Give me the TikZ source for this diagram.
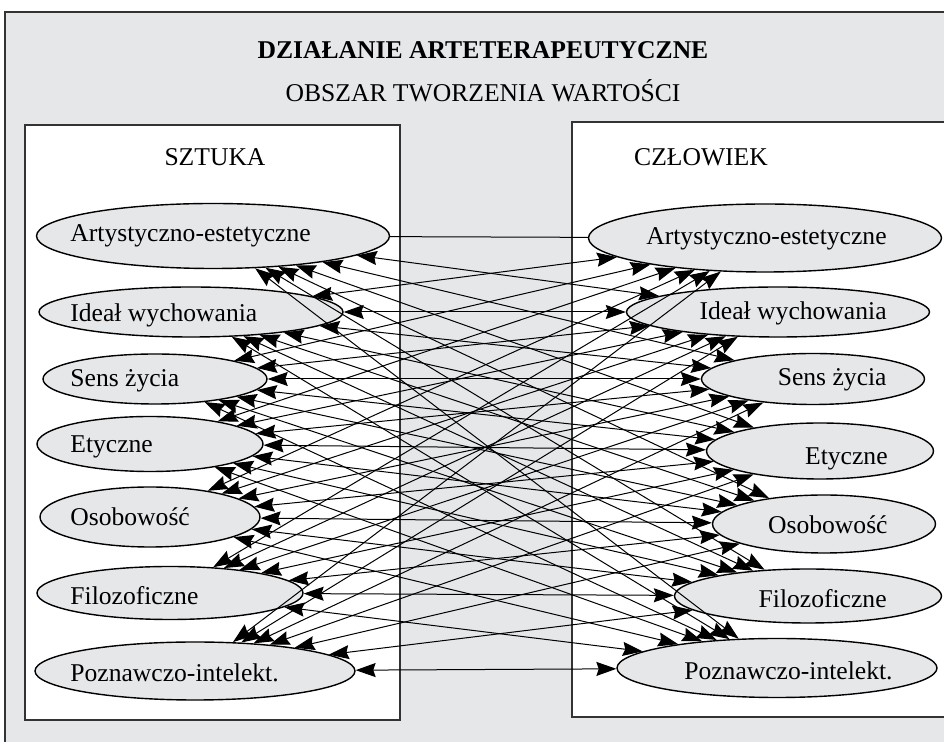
\documentclass[tikz,border=0pt]{standalone}
\usepackage{fontspec}
\setmainfont{Liberation Serif}
\usetikzlibrary{arrows.meta,shapes.geometric}
\definecolor{panel}{RGB}{230,231,233}
\begin{document}
\begin{tikzpicture}[x=0.5pt,y=-0.5pt,
  every node/.style={font=\fontsize{12.8}{14}\selectfont, inner sep=0pt},
  oval/.style={ellipse, draw=black, line width=0.7pt, fill=panel, inner sep=0pt},
  box/.style={draw=black!80, line width=0.7pt, fill=white},
  conn/.style={{Stealth[length=10pt,width=7pt,inset=1.2pt]}-{Stealth[length=10pt,width=7pt,inset=1.2pt]}, line width=0.5pt},
  plain/.style={line width=0.5pt},
]
\useasboundingbox (0,0) rectangle (944,742);
\clip (0,0) rectangle (944,742);
\fill[white] (0,0) rectangle (944,742);
\draw[fill=panel, line width=1pt, draw=black!80] (5,12) rectangle (970,770);
\draw[box] (25,125) rectangle (400,720);
\draw[box] (572,122) rectangle (970,717);
\node[font=\fontsize{12.8}{14}\selectfont\bfseries] (title) at (483,50) {DZIAŁANIE ARTETERAPEUTYCZNE};
\node (sub) at (483,91) {OBSZAR TWORZENIA WARTOŚCI};
\node (sztuka) at (215,157) {SZTUKA};
\node (czlowiek) at (701,157) {CZŁOWIEK};
% left ellipses
\node[oval, minimum width=176.5pt, minimum height=32.5pt] (L1) at (213,236) {};
\node[oval, minimum width=152pt, minimum height=25pt] (L2) at (191,312) {};
\node[oval, minimum width=112pt, minimum height=25pt] (L3) at (155,379) {};
\node[oval, minimum width=113pt, minimum height=27.5pt] (L4) at (150,444) {};
\node[oval, minimum width=110pt, minimum height=30pt] (L5) at (150,517) {};
\node[oval, minimum width=133pt, minimum height=26.5pt] (L6) at (170,593) {};
\node[oval, minimum width=160pt, minimum height=29pt] (L7) at (195,671) {};
% right ellipses
\node[oval, minimum width=176.5pt, minimum height=34pt] (R1) at (765,238) {};
\node[oval, minimum width=151.5pt, minimum height=25pt] (R2) at (778,312) {};
\node[oval, minimum width=111.5pt, minimum height=25.5pt] (R3) at (813,379) {};
\node[oval, minimum width=113.5pt, minimum height=28pt] (R4) at (820,451) {};
\node[oval, minimum width=111.5pt, minimum height=29pt] (R5) at (824,524) {};
\node[oval, minimum width=133.5pt, minimum height=27pt] (R6) at (808,596) {};
\node[oval, minimum width=160pt, minimum height=29.5pt] (R7) at (777,668) {};
% left texts
\node[anchor=west] (tL1) at (70,236) {Artystyczno-estetyczne};
\node[anchor=west] (tL2) at (70,315) {Ideał wychowania};
\node[anchor=west] (tL3) at (70,381) {Sens życia};
\node[anchor=west] (tL4) at (70,447) {Etyczne};
\node[anchor=west] (tL5) at (70,517) {Osobowość};
\node[anchor=west] (tL6) at (70,596) {Filozoficzne};
\node[anchor=west] (tL7) at (70,673) {Poznawczo-intelekt.};
% right texts
\node[anchor=east] (tR1) at (887,239) {Artystyczno-estetyczne};
\node[anchor=east] (tR2) at (887,313) {Ideał wychowania};
\node[anchor=east] (tR3) at (887,380) {Sens życia};
\node[anchor=east] (tR4) at (888,459) {Etyczne};
\node[anchor=east] (tR5) at (888,525) {Osobowość};
\node[anchor=east] (tR6) at (887,599) {Filozoficzne};
\node[anchor=east] (tR7) at (893,671) {Poznawczo-intelekt.};
% connectors
\draw[plain] (L1) -- (R1);
\foreach \j in {2,...,7}{
  \draw[conn] (L1) -- (R\j);
}
\foreach \i in {2,...,7}{
  \foreach \j in {1,...,7}{
    \draw[conn] (L\i) -- (R\j);
  }
}
\end{tikzpicture}
\end{document}
